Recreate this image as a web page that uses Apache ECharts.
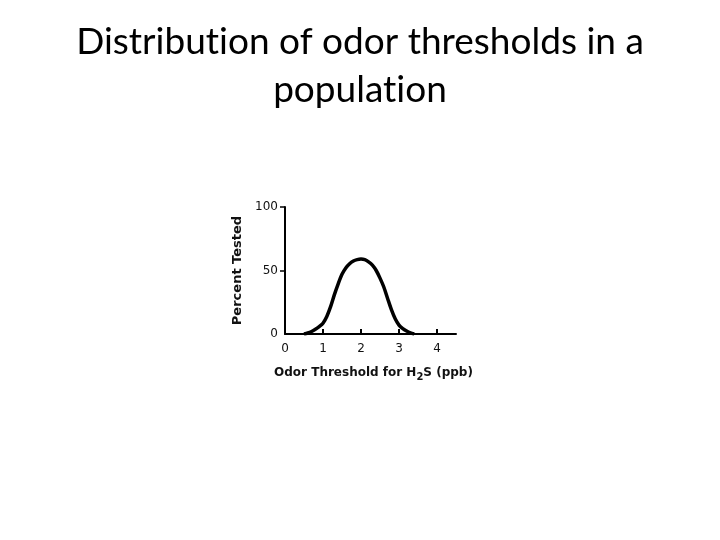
<!DOCTYPE html>
<html>
<head>
<meta charset="utf-8">
<script src="https://cdn.jsdelivr.net/npm/echarts@6/dist/echarts.min.js"></script>
<style>
  html, body { margin: 0; padding: 0; background: #fff; }
  #chart { width: 720px; height: 540px; }
</style>
</head>
<body>
<div id="chart"></div>
<script>
// odor threshold (ppb) vs percent tested
const thresholds = [0.5, 0.6, 0.7, 0.8, 0.9, 1.0, 1.1, 1.2, 1.3, 1.4, 1.5, 1.6, 1.7, 1.8, 1.9, 2.0,
                    2.1, 2.2, 2.3, 2.4, 2.5, 2.6, 2.7, 2.8, 2.9, 3.0, 3.1, 3.2, 3.3, 3.4];
const percents   = [0, 0.8, 2, 3.7, 5.8, 8.5, 13.8, 21.5, 31, 39.5, 47, 52, 55.3, 57.5, 58.6, 59,
                    58.5, 56.8, 54.2, 50, 44, 37, 28, 19.2, 12, 7, 4.2, 2.3, 0.9, 0];
const xTickLabels = [0, 1, 2, 3, 4];
const yTickLabels = [0, 50, 100];

const labelFont = "'DejaVu Sans', sans-serif";

const chart = echarts.init(document.getElementById("chart"));
chart.setOption({
  animation: false,
  title: {
    // split runs so Lato does not join "ti" into a ligature
    text: "{t|Distribut}{t|ion of odor thresholds in a}\n{t|populat}{t|ion}",
    left: 355,
    top: 13,
    textAlign: "center",
    textStyle: {
      align: "center",
      rich: {
        t: {
          fontFamily: "Lato, 'Open Sans', sans-serif",
          fontWeight: "normal",
          fontSize: 37,
          lineHeight: 48,
          color: "#000"
        }
      }
    }
  },
  grid: { left: 285, right: 264, top: 207, bottom: 206 },
  xAxis: {
    type: "value",
    min: 0,
    max: 4.5,
    interval: 1,
    name: "{a|Odor Threshold for H}{s|2}{a|S (ppb)}",
    nameLocation: "middle",
    nameGap: 30,
    nameTextStyle: {
      padding: [0, 0, 0, 6],
      rich: {
        a: { fontFamily: labelFont, fontWeight: "bold", fontSize: 12, color: "#111" },
        s: { fontFamily: labelFont, fontWeight: "bold", fontSize: 10, color: "#111", padding: [8, 0, 0, 0] }
      }
    },
    axisLine: { lineStyle: { color: "#000", width: 2 } },
    axisTick: { inside: true, length: 5, lineStyle: { color: "#000", width: 2 }, customValues: [1, 2, 3, 4] },
    axisLabel: { customValues: xTickLabels, margin: 9, fontFamily: labelFont, fontSize: 12, color: "#111" },
    splitLine: { show: false }
  },
  yAxis: {
    type: "value",
    min: 0,
    max: 100,
    interval: 50,
    name: "Percent Tested",
    nameLocation: "middle",
    nameGap: 41,
    nameRotate: 90,
    nameTextStyle: { fontFamily: labelFont, fontWeight: "bold", fontSize: 13, color: "#111" },
    axisLine: { show: true, lineStyle: { color: "#000", width: 2 } },
    axisTick: { show: true, length: 5, lineStyle: { color: "#000", width: 1.5 }, customValues: [50, 100] },
    axisLabel: { customValues: yTickLabels, margin: 7, fontFamily: labelFont, fontSize: 12, color: "#111" },
    splitLine: { show: false }
  },
  series: [{
    type: "line",
    data: thresholds.map((t, i) => [t, percents[i]]),
    smooth: 0.3,
    showSymbol: false,
    lineStyle: { color: "#000", width: 3.5 }
  }]
});
</script>
</body>
</html>
